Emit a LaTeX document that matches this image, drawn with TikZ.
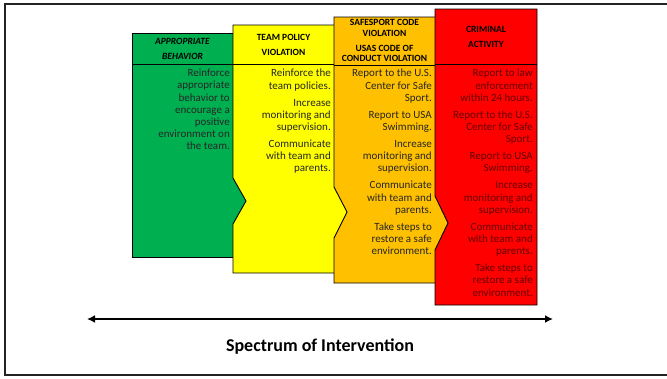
\documentclass[tikz,border=0pt]{standalone}
\usepackage{fontspec}
\setmainfont{Carlito}
\usetikzlibrary{calc}
\usetikzlibrary{positioning}
\usetikzlibrary{arrows.meta}
\definecolor{behaviorColor}{RGB}{0,176,80}
\definecolor{policyColor}{RGB}{255,255,0}
\definecolor{codeColor}{RGB}{255,192,0}
\definecolor{criminalColor}{RGB}{255,0,0}
\definecolor{criminalTextColor}{RGB}{100,0,0}
\definecolor{frameLineColor}{RGB}{35,35,35}
\tikzset{
	panel/.style = {
		draw = black, line width = 0.9pt
	},
	header/.style = {
		font = \fontsize{9.5}{10.5}\selectfont\bfseries, align = center, inner sep = 0pt
	},
	actions/.style = {
		font = \fontsize{11}{12.2}\selectfont, align = right, anchor = north east,
		inner sep = 0pt, text = black!85
	},
	spectrumLineStyle/.style = {
		line width = 2.5pt, >={Latex[length=8pt,width=8pt]}, <->
	}
}

\begin{document}
\begin{tikzpicture}[x=1pt, y=-1pt]
	\useasboundingbox (0,0) rectangle (667,378);
	\draw [line width = 2pt, frameLineColor] (667,3.5) -- (5,3.5) -- (5,375) -- (667,375);

	% appropriate behavior
	\filldraw [panel, fill = behaviorColor] (132,33) rectangle (250,257);
	\draw [panel] (132,64) -- (250,64);
	% team policy violation
	\filldraw [panel, fill = policyColor] (233,25) -- (350,25) -- (350,273) -- (233,273)
		-- (233,224) -- (246,201) -- (233,178) -- cycle;
	\draw [panel] (233,64) -- (350,64);
	% code violation
	\filldraw [panel, fill = codeColor] (334,17) -- (450,17) -- (450,283) -- (334,283)
		-- (334,238) -- (347,212) -- (334,187) -- cycle;
	\draw [panel] (334,65) -- (450,65);
	% criminal activity
	\filldraw [panel, fill = criminalColor] (435,9) -- (537,9) -- (537,305) -- (435,305)
		-- (435,250) -- (448,223) -- (435,196) -- cycle;
	\draw [panel] (435,64) -- (537,64);

	\node [header] (behaviorHead) at (182.5,48.5) {\textit{APPROPRIATE}\\[4.5pt]\textit{BEHAVIOR}};
	\node [header] (policyHead) at (283.5,44.5) {TEAM POLICY\\[4.5pt]VIOLATION};
	\node [header] (codeHead) at (384.5,40.5) {SAFESPORT CODE\\VIOLATION\\[4.5pt]USAS CODE OF\\CONDUCT VIOLATION};
	\node [header] (criminalHead) at (486,36.5) {CRIMINAL\\[4.5pt]ACTIVITY};

	\node [actions] (behaviorSteps) at (230,69) {Reinforce\\appropriate\\behavior to\\encourage a\\positive\\environment on\\the team.};
	\node [actions] (policySteps) at (331,69) {Reinforce the\\team policies.\\[4.8pt]
		Increase\\monitoring and\\supervision.\\[4.8pt]
		Communicate\\with team and\\parents.};
	\node [actions] (codeSteps) at (432,69) {Report to the U.S.\\Center for Safe\\Sport.\\[4.8pt]
		Report to USA\\Swimming.\\[4.8pt]
		Increase\\monitoring and\\supervision.\\[4.8pt]
		Communicate\\with team and\\parents.\\[4.8pt]
		Take steps to\\restore a safe\\environment.};
	\node [actions, text = criminalTextColor] (criminalSteps) at (533,69) {Report to law\\enforcement\\within 24 hours.\\[4.8pt]
		Report to the U.S.\\Center for Safe\\Sport.\\[4.8pt]
		Report to USA\\Swimming.\\[4.8pt]
		Increase\\monitoring and\\supervision.\\[4.8pt]
		Communicate\\with team and\\parents.\\[4.8pt]
		Take steps to\\restore a safe\\environment.};

	\coordinate (spectrumStart) at (87,319);
	\coordinate (spectrumEnd) at (553,319);
	\draw [spectrumLineStyle] (spectrumStart) -- (spectrumEnd);
	\node [font = \fontsize{18}{20}\selectfont\bfseries] (spectrum) at (320,347) {Spectrum of Intervention};
\end{tikzpicture}
\end{document}
